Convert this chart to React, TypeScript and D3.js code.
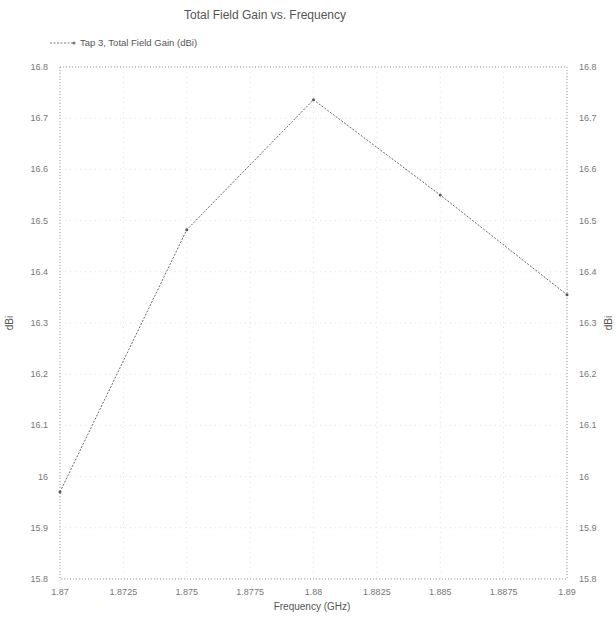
import React from "react";
import * as d3 from "d3";

const freqs = [1.87, 1.875, 1.88, 1.885, 1.89];
const gains = [15.97, 16.482, 16.736, 16.55, 16.355];
const xTicks = [1.87, 1.8725, 1.875, 1.8775, 1.88, 1.8825, 1.885, 1.8875, 1.89];
const yTicks = [15.8, 15.9, 16, 16.1, 16.2, 16.3, 16.4, 16.5, 16.6, 16.7, 16.8];
const title = "Total Field Gain vs. Frequency";
const legendLabel = "Tap 3, Total Field Gain (dBi)";
const xLabel = "Frequency (GHz)";
const yLabel = "dBi";

export default function App() {
  const W = 616, H = 618;
  const L = 60, R = 567, T = 67, B = 579;
  const x = d3.scaleLinear().domain([1.87, 1.89]).range([L, R]);
  const y = d3.scaleLinear().domain([15.8, 16.8]).range([B, T]);
  const line = d3.line<number>().x((_, i) => x(freqs[i])).y((d) => y(d));
  const fmt = (v: number) => String(+v.toFixed(4));
  const font = "'Liberation Sans', Arial, sans-serif";
  return (
    <svg width={W} height={H} style={{ position: "absolute", left: 0, top: 0, background: "#fff" }} fontFamily={font}>
      <text x={265} y={19} textAnchor="middle" fontSize={12} fill="#555">{title}</text>
      {xTicks.map((t) => (
        <line key={"gx" + t} x1={x(t)} x2={x(t)} y1={T} y2={B} stroke="#e2e2e2" strokeWidth={1} strokeDasharray="1,4" />
      ))}
      {yTicks.map((t) => (
        <line key={"gy" + t} x1={L} x2={R} y1={y(t)} y2={y(t)} stroke="#e2e2e2" strokeWidth={1} strokeDasharray="1,4" />
      ))}
      <rect x={L} y={T} width={R - L} height={B - T} fill="none" stroke="#999" strokeWidth={1} strokeDasharray="1,2" />
      {xTicks.map((t) => (
        <text key={"xl" + t} x={x(t)} y={B + 16} textAnchor="middle" fontSize={9} fill="#777">{fmt(t)}</text>
      ))}
      {yTicks.map((t) => (
        <text key={"yl" + t} x={L - 12} y={y(t) + 3} textAnchor="end" fontSize={9} fill="#777">{fmt(t)}</text>
      ))}
      {yTicks.map((t) => (
        <text key={"yr" + t} x={R + 12} y={y(t) + 3} textAnchor="start" fontSize={9} fill="#777">{fmt(t)}</text>
      ))}
      <path d={line(gains) || ""} fill="none" stroke="#666" strokeWidth={1} strokeDasharray="2,1.5" />
      {gains.map((g, i) => (
        <circle key={"m" + i} cx={x(freqs[i])} cy={y(g)} r={1.5} fill="#555" />
      ))}
      <text x={312} y={610} textAnchor="middle" fontSize={10} fill="#555">{xLabel}</text>
      <text transform={`translate(13,${(T + B) / 2}) rotate(-90)`} textAnchor="middle" fontSize={10} fill="#555">{yLabel}</text>
      <text transform={`translate(612,${(T + B) / 2}) rotate(-90)`} textAnchor="middle" fontSize={10} fill="#555">{yLabel}</text>
      <line x1={50} x2={74} y1={43} y2={43} stroke="#777" strokeWidth={1} strokeDasharray="2,1.5" />
      <circle cx={74} cy={43} r={1.5} fill="#777" />
      <text x={80} y={46} fontSize={9.5} fill="#555">{legendLabel}</text>
    </svg>
  );
}
